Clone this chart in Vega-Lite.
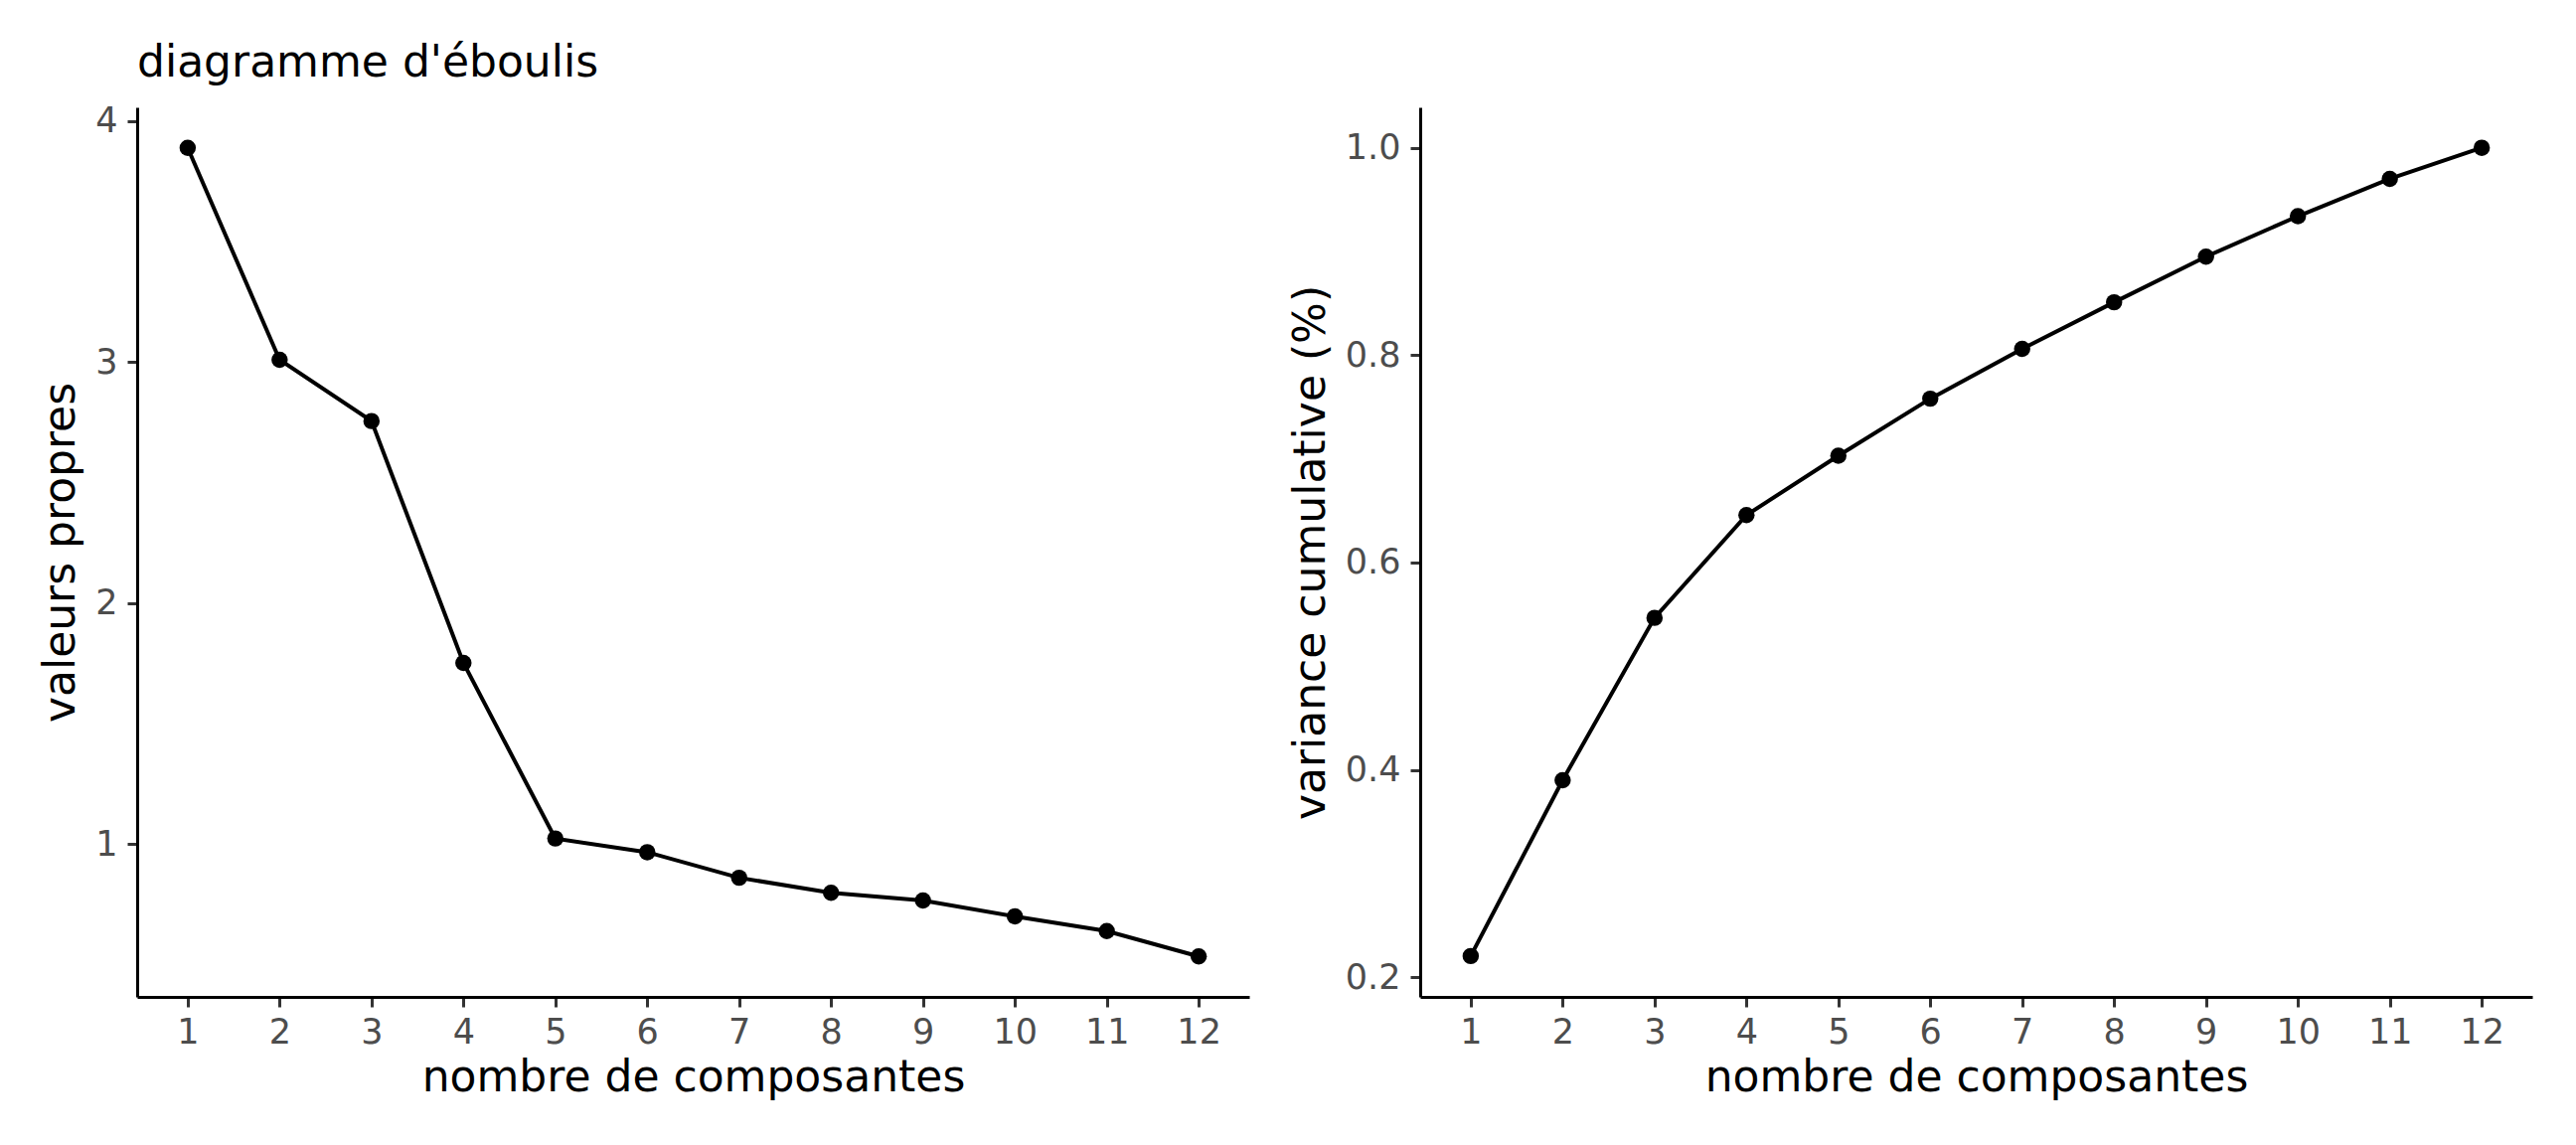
{
  "$schema": "https://vega.github.io/schema/vega-lite/v6.json",
  "background": "white",
  "padding": {"left": 39, "top": 41, "right": 10, "bottom": 10},
  "data": {"values": [
    {"comp": 1, "eigen": 3.888, "cumvar": 0.2204},
    {"comp": 2, "eigen": 3.009, "cumvar": 0.390},
    {"comp": 3, "eigen": 2.755, "cumvar": 0.5466},
    {"comp": 4, "eigen": 1.752, "cumvar": 0.6457},
    {"comp": 5, "eigen": 1.024, "cumvar": 0.703},
    {"comp": 6, "eigen": 0.967, "cumvar": 0.758},
    {"comp": 7, "eigen": 0.861, "cumvar": 0.806},
    {"comp": 8, "eigen": 0.799, "cumvar": 0.851},
    {"comp": 9, "eigen": 0.767, "cumvar": 0.895},
    {"comp": 10, "eigen": 0.701, "cumvar": 0.934},
    {"comp": 11, "eigen": 0.640, "cumvar": 0.970},
    {"comp": 12, "eigen": 0.535, "cumvar": 1.0}
  ]},
  "spacing": 40,
  "config": {
    "view": {"stroke": null},
    "font": "DejaVu Sans",
    "axis": {
      "grid": false,
      "domainColor": "black",
      "domainWidth": 3,
      "tickColor": "#333333",
      "tickWidth": 3,
      "tickSize": 10,
      "labelFont": "DejaVu Sans",
      "labelFontSize": 35,
      "labelColor": "#4D4D4D",
      "labelOverlap": false,
      "labelFlush": false,
      "titleFont": "DejaVu Sans",
      "titleFontSize": 44,
      "titleFontWeight": "normal",
      "titleColor": "black"
    },
    "axisX": {"labelPadding": 8, "titlePadding": 6},
    "axisY": {"labelPadding": 10, "titlePadding": 12}
  },
  "hconcat": [
    {
      "width": 1119,
      "height": 895,
      "title": {"text": "diagramme d'éboulis", "anchor": "start", "frame": "group", "fontSize": 44, "fontWeight": "normal", "color": "black", "font": "DejaVu Sans", "baseline": "alphabetic", "offset": -16},
      "encoding": {
        "x": {"field": "comp", "type": "quantitative", "scale": {"domain": [0.45, 12.55], "nice": false, "zero": false}, "axis": {"values": [1,2,3,4,5,6,7,8,9,10,11,12], "format": "d", "title": "nombre de composantes"}},
        "y": {"field": "eigen", "type": "quantitative", "scale": {"domain": [0.367, 4.056], "nice": false, "zero": false}, "axis": {"values": [1,2,3,4], "format": "d", "title": "valeurs propres"}}
      },
      "layer": [
        {"mark": {"type": "line", "color": "black", "strokeWidth": 4}},
        {"mark": {"type": "point", "filled": true, "color": "black", "opacity": 1, "size": 270}}
      ]
    },
    {
      "width": 1119,
      "height": 895,
      "encoding": {
        "x": {"field": "comp", "type": "quantitative", "scale": {"domain": [0.45, 12.55], "nice": false, "zero": false}, "axis": {"values": [1,2,3,4,5,6,7,8,9,10,11,12], "format": "d", "title": "nombre de composantes"}},
        "y": {"field": "cumvar", "type": "quantitative", "scale": {"domain": [0.181, 1.039], "nice": false, "zero": false}, "axis": {"values": [0.2,0.4,0.6,0.8,1.0], "format": ".1f", "title": "variance cumulative (%)"}}
      },
      "layer": [
        {"mark": {"type": "line", "color": "black", "strokeWidth": 4}},
        {"mark": {"type": "point", "filled": true, "color": "black", "opacity": 1, "size": 270}}
      ]
    }
  ]
}
